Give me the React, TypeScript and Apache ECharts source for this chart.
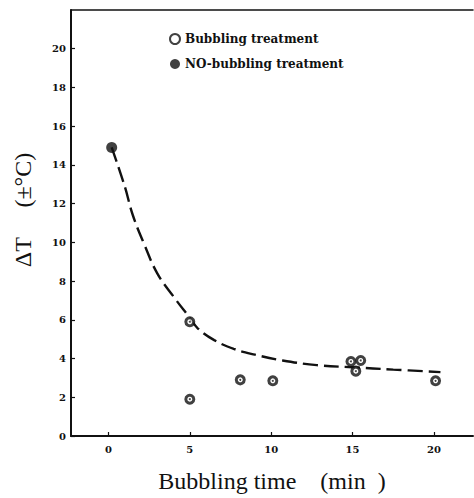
import React, { useEffect, useRef } from "react";
import * as echarts from "echarts";

// Axis ticks
const xTicks = [0, 5, 10, 15, 20];
const yTicks = [0, 2, 4, 6, 8, 10, 12, 14, 16, 18, 20];

// Measured ΔT (±°C) against bubbling time (min)
const bubblingPoints: [number, number][] = [
  [5, 5.9],
  [5, 1.9],
  [8.1, 2.9],
  [10.1, 2.85],
  [14.9, 3.85],
  [15.5, 3.9],
  [15.2, 3.35],
  [20.1, 2.85],
];
const noBubblingPoints: [number, number][] = [[0.2, 14.9]];

// Hand-drawn trend curve
const trendCurve: [number, number][] = [
  [0.2, 14.9],
  [1.0, 12.9],
  [1.5, 11.4],
  [2.2, 9.9],
  [3.0, 8.4],
  [4.0, 7.2],
  [5.0, 6.1],
  [5.5, 5.55],
  [6.5, 4.95],
  [7.7, 4.5],
  [9.0, 4.2],
  [10.7, 3.9],
  [12.8, 3.66],
  [15.0, 3.55],
  [17.5, 3.43],
  [20.4, 3.3],
];

const INK = "#111";
const SERIF = "'DejaVu Serif', 'Liberation Serif', serif";
const ROMAN = "'Liberation Serif', 'DejaVu Serif', serif";

export default function App() {
  const ref = useRef<HTMLDivElement>(null);

  useEffect(() => {
    if (!ref.current) return;
    const chart = echarts.init(ref.current, null, { renderer: "svg" });
    chart.setOption({
      animation: false,
      backgroundColor: "#fff",
      grid: { left: 71, top: 10, right: 1, bottom: 57, containLabel: false },
      legend: {
        orient: "vertical",
        left: 169,
        top: 33,
        padding: 0,
        itemWidth: 10,
        itemHeight: 10,
        itemGap: 13,
        data: ["Bubbling treatment", "NO-bubbling treatment"],
        textStyle: { fontFamily: SERIF, fontWeight: "bold", fontSize: 12, color: INK },
      },
      xAxis: [
        {
          type: "value",
          min: -2.3,
          max: 22.4,
          position: "bottom",
          splitLine: { show: false },
          axisLine: { show: true, onZero: false, lineStyle: { color: INK, width: 2 } },
          axisTick: {
            show: true,
            inside: true,
            length: 4,
            customValues: xTicks,
            lineStyle: { color: INK, width: 1.2 },
          },
          axisLabel: {
            customValues: xTicks,
            margin: 8,
            color: INK,
            fontFamily: SERIF,
            fontWeight: "bold",
            fontSize: 10,
          },
          name: "Bubbling time    (min  )",
          nameLocation: "middle",
          nameGap: 33,
          nameTextStyle: { fontFamily: ROMAN, fontSize: 24, color: INK },
        },
        {
          type: "value",
          min: -2.3,
          max: 22.4,
          position: "top",
          splitLine: { show: false },
          axisLine: { show: true, onZero: false, lineStyle: { color: INK, width: 1.5 } },
          axisTick: { show: false },
          axisLabel: { show: false },
        },
      ],
      yAxis: {
        type: "value",
        min: 0,
        max: 22,
        splitLine: { show: false },
        axisLine: { show: true, onZero: false, lineStyle: { color: INK, width: 2 } },
        axisTick: {
          show: true,
          inside: true,
          length: 4,
          customValues: yTicks,
          lineStyle: { color: INK, width: 1.2 },
        },
        axisLabel: {
          customValues: yTicks,
          margin: 5,
          color: INK,
          fontFamily: SERIF,
          fontWeight: "bold",
          fontSize: 10,
        },
      },
      graphic: [
        {
          type: "text",
          x: 23,
          y: 210,
          rotation: Math.PI / 2,
          style: {
            text: "ΔT     (±°C)",
            fontFamily: ROMAN,
            fontSize: 24,
            fill: INK,
            align: "center",
            verticalAlign: "middle",
          },
        },
      ],
      series: [
        {
          name: "trend",
          type: "line",
          data: trendCurve,
          smooth: 0.4,
          symbol: "none",
          silent: true,
          z: 1,
          lineStyle: { color: INK, width: 2.4, type: [15, 6] },
        },
        {
          name: "Bubbling treatment",
          type: "scatter",
          data: bubblingPoints,
          symbol: "circle",
          symbolSize: 8,
          z: 3,
          itemStyle: { color: "#fff", borderColor: INK, borderWidth: 3 },
        },
        {
          name: "centre",
          type: "scatter",
          data: bubblingPoints,
          symbol: "circle",
          symbolSize: 2,
          silent: true,
          z: 4,
          itemStyle: { color: INK },
        },
        {
          name: "NO-bubbling treatment",
          type: "scatter",
          data: noBubblingPoints,
          symbol: "circle",
          symbolSize: 11,
          z: 3,
          itemStyle: { color: INK },
        },
      ],
    });
    return () => chart.dispose();
  }, []);

  return <div ref={ref} style={{ width: 474, height: 498, position: "absolute", left: 0, top: 0 }} />;
}
